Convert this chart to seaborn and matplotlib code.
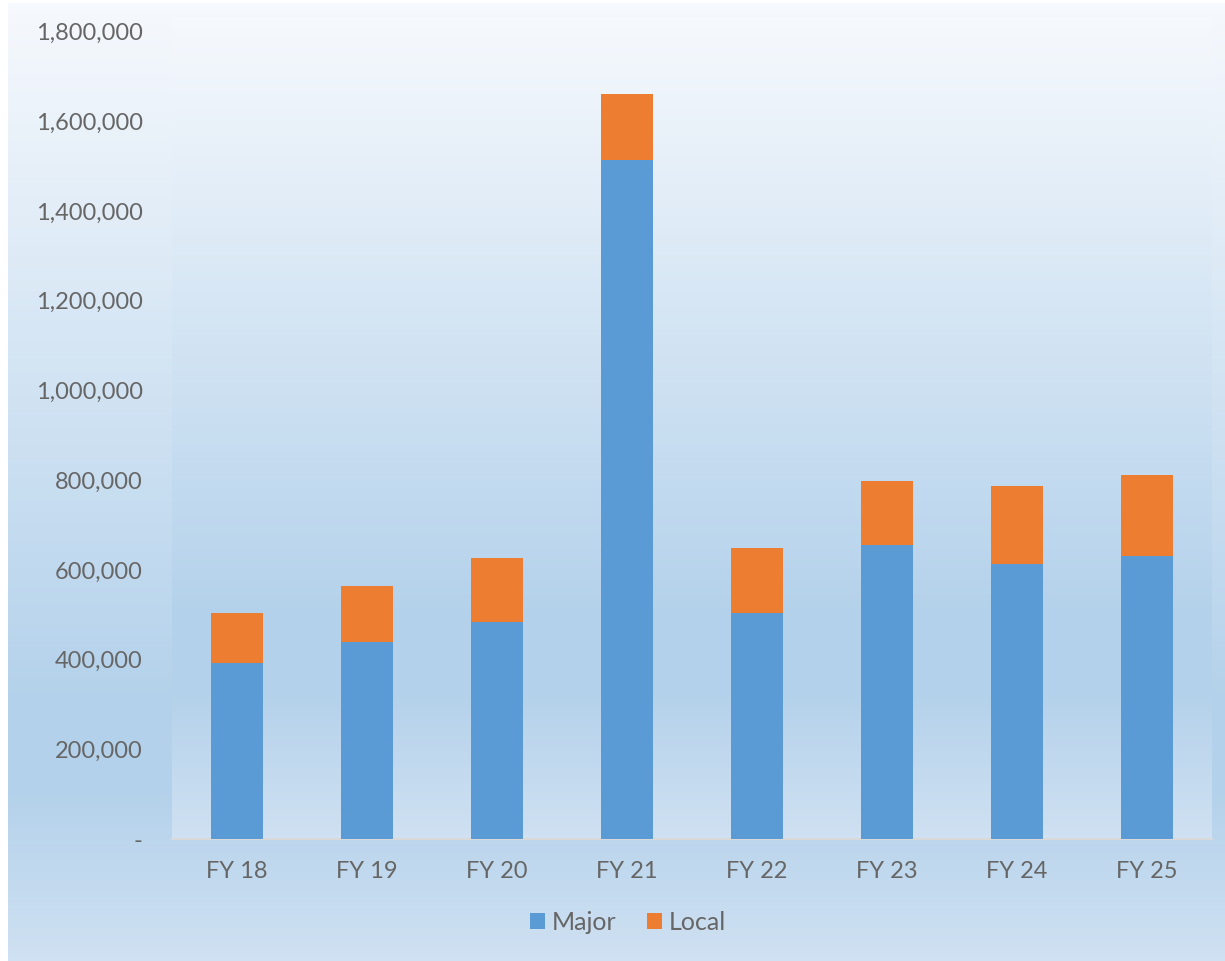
import numpy as np
import pandas as pd
import matplotlib.pyplot as plt
import matplotlib.colors as mcolors
from matplotlib.patches import Patch
import seaborn as sns

# 数据
years = ['FY 18', 'FY 19', 'FY 20', 'FY 21', 'FY 22', 'FY 23', 'FY 24', 'FY 25']
major = [393000, 440000, 484000, 1513000, 505000, 655000, 614000, 632000]
local = [111000, 124000, 142000, 147000, 143000, 143000, 174000, 179000]
yticks = [0, 200000, 400000, 600000, 800000, 1000000, 1200000, 1400000, 1600000, 1800000]

df = pd.DataFrame({'year': years, 'Major': major, 'Local': local})
df['Total'] = df['Major'] + df['Local']

sns.set_theme(style='white')
plt.rcParams['font.family'] = ['Lato', 'DejaVu Sans']

text_color = '#666666'
blue = '#5B9BD5'
orange = '#ED7D31'

# 渐变背景
grad = mcolors.LinearSegmentedColormap.from_list(
    'bg', [(0.0, '#f6f9fd'), (0.74, '#b3d1eb'), (0.83, '#b5d2eb'), (1.0, '#cfe1f2')])
g = np.linspace(0, 1, 256).reshape(-1, 1)

fig = plt.figure(figsize=(12.25, 9.61), dpi=100)
bg = fig.add_axes([8 / 1225, 0, 1 - 8 / 1225, 1 - 3 / 961])
bg.imshow(g, cmap=grad, aspect='auto', extent=[0, 1, 0, 1], origin='upper')
bg.set_axis_off()

ax = fig.add_axes([172 / 1225, 1 - 839 / 961, (1212 - 172) / 1225, (839 - 18) / 961])
ax.imshow(g, cmap=grad, aspect='auto', extent=[0, 1, 0, 1], origin='upper',
          transform=ax.transAxes, zorder=0)
ax.set_facecolor('none')

sns.barplot(data=df, x='year', y='Total', color=orange, width=0.4,
            saturation=1, ax=ax, zorder=2, edgecolor='none')
sns.barplot(data=df, x='year', y='Major', color=blue, width=0.4,
            saturation=1, ax=ax, zorder=3, edgecolor='none')

ax.set_ylim(0, 1800000 * (839 - 18) / (839 - 31.7))
ax.set_xlim(-0.5, len(years) - 0.5)
ax.set_yticks(yticks)
ax.set_yticklabels(['-' if v == 0 else f'{v:,}' for v in yticks])
ax.set_xlabel('')
ax.set_ylabel('')
ax.tick_params(axis='both', length=0, labelsize=17, colors=text_color)
ax.tick_params(axis='y', pad=21)
ax.tick_params(axis='x', pad=16)

for s in ['top', 'right', 'left']:
    ax.spines[s].set_visible(False)
ax.spines['bottom'].set_color('#d9d9d9')
ax.spines['bottom'].set_linewidth(1.5)
ax.grid(False)

handles = [Patch(facecolor=blue, edgecolor='none', label='Major'),
           Patch(facecolor=orange, edgecolor='none', label='Local')]
fig.legend(handles=handles, loc='center', bbox_to_anchor=(628 / 1225, 1 - 922 / 961),
           ncol=2, frameon=False, fontsize=18, labelcolor=text_color,
           handlelength=0.6, handleheight=0.6, handletextpad=0.3, columnspacing=1.2)

fig.savefig('out.png', dpi=100)
